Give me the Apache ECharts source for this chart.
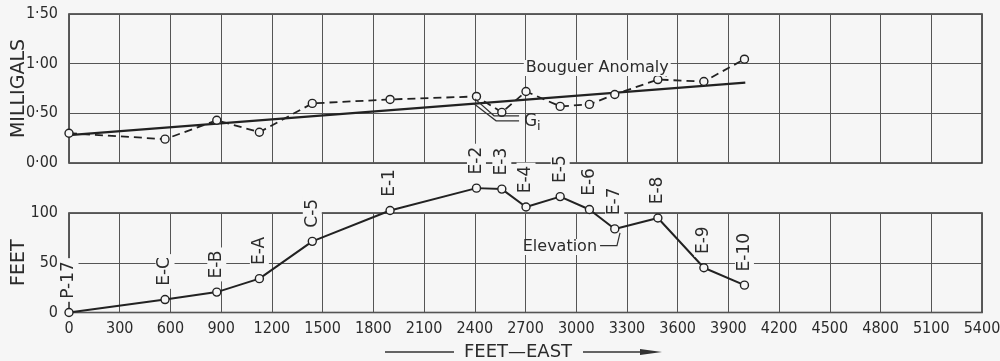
<!DOCTYPE html>
<html><head><meta charset="utf-8">
<script src="https://cdn.jsdelivr.net/npm/echarts@6/dist/echarts.min.js"></script>
<style>html,body{margin:0;padding:0;background:#f6f6f6}#c{width:1000px;height:361px}</style>
</head><body><div id="c"></div>
<script>
// ---- data ----
const stations    = ['P-17','E-C','E-B','E-A','C-5','E-1','E-2','E-3','E-4','E-5','E-6','E-7','E-8','E-9','E-10'];
const distanceFt  = [0, 568, 874, 1126, 1439, 1899, 2410, 2560, 2703, 2905, 3078, 3228, 3483, 3755, 3995];
const elevationFt = [0, 13, 20.5, 34, 71.5, 102.5, 125, 124, 106, 116.5, 103.5, 84, 95, 45, 27.5];
const bouguerMgal = [0.30, 0.24, 0.43, 0.31, 0.60, 0.64, 0.67, 0.51, 0.72, 0.57, 0.59, 0.69, 0.84, 0.82, 1.045];
const giDistanceFt = [0, 4000];
const giMgal       = [0.28, 0.81];
const xTickLabels  = [0,300,600,900,1200,1500,1800,2100,2400,2700,3000,3300,3600,3900,4200,4500,4800,5100,5400];
const mgalTicks    = ['0·00','0·50','1·00','1·50'];
const feetTicks    = ['0','50','100'];

const BG = '#f6f6f6', INK = '#2b2b2b', GRIDC = '#555';
const NARROW = '"Liberation Sans Narrow","DejaVu Sans Condensed","Liberation Sans",sans-serif';
const SANS = '"DejaVu Sans","Liberation Sans",sans-serif';

const pairs = (xs, ys) => xs.map((x, i) => [x, ys[i]]);

const chart = echarts.init(document.getElementById('c'), null, {renderer: 'canvas'});

const xBase = {
  type: 'value', min: xTickLabels[0], max: xTickLabels[xTickLabels.length - 1], interval: 300,
  axisLine: {show: false}, axisTick: {show: false},
  splitLine: {show: true, lineStyle: {color: GRIDC, width: 1}}
};

const gridBase = {left: 69, right: 18, show: true, borderColor: '#333', borderWidth: 1.6,
  backgroundColor: 'transparent', containLabel: false, outerBoundsMode: 'none'};

const yName = {nameLocation: 'middle', nameRotate: 90, nameGap: 40, nameMoveOverlap: false,
  nameTextStyle: {color: INK, fontFamily: '"DejaVu Sans",sans-serif', fontSize: 19}};

const option = {
  backgroundColor: BG,
  animation: false,
  grid: [
    Object.assign({}, gridBase, {top: 14, height: 149}),
    Object.assign({}, gridBase, {top: 213, height: 99.5})
  ],
  xAxis: [
    Object.assign({}, xBase, {gridIndex: 0, axisLabel: {show: false}}),
    Object.assign({}, xBase, {gridIndex: 1, axisLabel: {show: true, margin: 8, color: INK, fontFamily: NARROW, fontSize: 16,
      formatter: v => String(v)}})
  ],
  yAxis: [
    Object.assign({type: 'value', gridIndex: 0, min: 0, max: 1.5, interval: 0.5,
     axisLine: {show: false}, axisTick: {show: false},
     splitLine: {show: true, lineStyle: {color: GRIDC, width: 1}},
     axisLabel: {margin: 11, color: INK, fontFamily: NARROW, fontSize: 16, formatter: v => mgalTicks[Math.round(v / 0.5)]},
     name: 'MILLIGALS'}, yName),
    Object.assign({type: 'value', gridIndex: 1, min: 0, max: 100, interval: 50,
     axisLine: {show: false}, axisTick: {show: false},
     splitLine: {show: true, lineStyle: {color: GRIDC, width: 1}},
     axisLabel: {margin: 11, color: INK, fontFamily: NARROW, fontSize: 16, formatter: v => feetTicks[Math.round(v / 50)]},
     name: 'FEET'}, yName)
  ],
  series: [
    {name: 'Gi', type: 'line', xAxisIndex: 0, yAxisIndex: 0, data: pairs(giDistanceFt, giMgal),
     symbol: 'none', lineStyle: {color: '#222', width: 2.2}, z: 3},
    {name: 'Bouguer Anomaly', type: 'line', xAxisIndex: 0, yAxisIndex: 0, data: pairs(distanceFt, bouguerMgal),
     symbol: 'circle', symbolSize: 8, showSymbol: true,
     itemStyle: {color: BG, borderColor: '#222', borderWidth: 1.4},
     lineStyle: {color: '#222', width: 1.8, type: [8, 5]}, z: 4},
    {name: 'Elevation', type: 'line', xAxisIndex: 1, yAxisIndex: 1, data: pairs(distanceFt, elevationFt),
     clip: false, symbol: 'circle', symbolSize: 8,
     itemStyle: {color: BG, borderColor: '#222', borderWidth: 1.4},
     lineStyle: {color: '#222', width: 2},
     label: {show: true, position: 'top', distance: 6, rotate: 90, align: 'left', verticalAlign: 'middle',
       formatter: p => stations[p.dataIndex], color: INK, fontFamily: SANS, fontSize: 17,
       backgroundColor: BG, padding: [1, 3]},
     z: 5}
  ]
};
chart.setOption(option);

// ---- annotations (leaders placed in data space) ----
const P0 = (x, y) => chart.convertToPixel({seriesIndex: 0}, [x, y]);
const P1 = (x, y) => chart.convertToPixel({seriesIndex: 2}, [x, y]);
const lead = pts => ({type: 'polyline', z: 50, shape: {points: pts}, style: {stroke: '#333', lineWidth: 1.2, fill: null}});
const txt = (pt, s, align, size, extra) => ({type: 'text', z: 60, x: pt[0], y: pt[1],
  style: Object.assign({text: s, fill: INK, font: size + 'px ' + SANS, align: align, verticalAlign: 'middle', backgroundColor: BG, padding: [0, 2]}, extra || {})});

const bA = P0(2690, 0.957);
const gT = P0(2679, 0.415);
const eT = P1(3135, 65.8);
const ax = 352;
chart.setOption({graphic: [
  txt(bA, 'Bouguer Anomaly', 'left', 16),
  lead([P0(3490, 0.988), P0(3549, 0.988), P0(3531, 0.87)]),
  lead([P0(2401, 0.646), P0(2514, 0.475), P0(2662, 0.475)]),
  lead([P0(2395, 0.596), P0(2526, 0.425), P0(2662, 0.425)]),
  txt(gT, 'G', 'left', 17, {backgroundColor: null}),
  txt([gT[0] + 13, gT[1] + 5], 'i', 'left', 13, {backgroundColor: null}),
  txt(eT, 'Elevation', 'right', 16),
  lead([P1(3141, 67.3), P1(3241, 67.3), P1(3259, 80)]),
  {type: 'line', z: 50, shape: {x1: 385, y1: ax, x2: 454, y2: ax}, style: {stroke: '#333', lineWidth: 1.5}},
  {type: 'text', z: 60, x: 518, y: ax, style: {text: 'FEET—EAST', fill: INK, font: '18px "DejaVu Sans",sans-serif', align: 'center', verticalAlign: 'middle'}},
  {type: 'line', z: 50, shape: {x1: 583, y1: ax, x2: 650, y2: ax}, style: {stroke: '#333', lineWidth: 1.5}},
  {type: 'polygon', z: 50, shape: {points: [[640, ax - 3], [662, ax], [640, ax + 3]]}, style: {fill: '#333'}}
]});
</script></body></html>
